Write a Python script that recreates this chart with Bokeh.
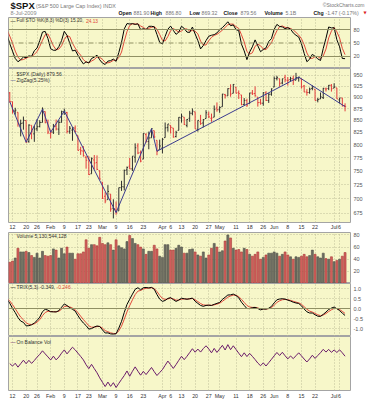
import numpy as np
from bokeh.plotting import figure
from bokeh.layouts import column
from bokeh.models import Range1d, FixedTicker, Label, Span, ColumnDataSource, NumeralTickFormatter
from bokeh.embed import file_html
from bokeh.resources import INLINE

# ---------------- warm-up sessions (15 Dec 2008 .. 8 Jan 2009), only seed the indicators
warm_high = [876.0, 914.0, 908.0, 911.0, 897.0, 887.0, 880.0, 869.0, 873.0, 873.0, 891.0, 910.0,
             934.73, 936.63, 943.85, 927.45, 910.00]
warm_low = [857.0, 868.0, 895.0, 882.0, 883.0, 857.0, 860.0, 861.0, 866.0, 857.0, 870.0, 889.0,
            899.35, 919.53, 927.28, 902.37, 896.81]
warm_close = [868.57, 913.18, 904.42, 885.28, 887.88, 871.63, 863.16, 868.15, 872.80, 869.42, 890.64, 903.25,
              931.80, 927.45, 934.70, 906.65, 909.73]

# ---------------- daily bars shown: 9 Jan 2009 .. 8 Jul 2009
opens = [
    909.91, 890.40, 869.79, 867.28, 841.99, 844.45, 849.64, 806.77, 839.74, 822.16, 832.50, 837.30, 845.73, 868.89, 845.69,
    823.09, 825.69, 837.77, 831.75, 846.09, 868.24, 866.87, 827.41, 829.91, 833.95, 818.61, 791.06, 787.91, 775.87, 773.25, 744.69, 770.64, 765.76, 749.93,
    729.57, 704.44, 698.60, 708.27, 684.04, 680.76, 679.28, 719.59, 720.89, 751.97, 758.84, 753.88, 776.01, 797.92, 784.58, 772.31, 820.60, 806.81, 814.06, 828.68, 809.07, 790.88,
    793.59, 814.53, 835.13, 839.75, 834.12, 816.76, 829.29, 855.33, 856.88, 839.44, 854.54, 865.18, 868.27, 831.25, 847.26, 844.62, 853.91, 862.82, 854.48, 856.85, 876.59,
    872.74, 879.21, 906.10, 903.33, 919.58, 909.03, 922.99, 910.52, 905.40, 884.24, 892.76, 886.07, 909.67, 908.62, 900.42, 888.68, 887.00, 909.95, 892.96, 907.02,
    923.26, 942.87, 942.51, 932.49, 945.67, 938.12, 940.35, 942.73, 939.04, 943.44, 942.45, 925.60, 911.89, 910.86, 919.96, 918.13, 893.46, 896.31, 899.45, 918.84, 919.86, 927.15,
    920.82, 921.24, 894.27, 898.60, 881.90]
highs = [
    911.93, 890.40, 877.02, 867.28, 851.59, 858.13, 849.64, 841.72, 839.74, 838.61, 852.53, 850.45, 877.86, 868.89, 851.66,
    830.78, 842.60, 851.85, 850.55, 870.75, 875.01, 868.05, 838.22, 835.48, 839.43, 818.61, 796.17, 797.58, 778.69, 777.85, 775.49, 780.12, 779.42, 751.27,
    729.57, 711.67, 724.12, 708.27, 699.09, 695.27, 719.60, 731.92, 752.63, 758.29, 774.53, 778.12, 803.04, 803.24, 788.91, 823.37, 823.65, 826.78, 832.98, 828.68, 809.07, 810.48,
    813.62, 845.61, 842.50, 839.75, 834.12, 828.42, 856.91, 864.31, 856.88, 852.93, 870.35, 875.63, 868.27, 850.09, 861.78, 852.87, 871.80, 868.83, 864.48, 882.06, 888.70,
    880.48, 907.85, 907.70, 920.28, 929.58, 930.17, 922.99, 915.57, 905.40, 898.36, 896.97, 910.00, 916.39, 924.60, 900.42, 896.65, 911.76, 913.84, 909.45, 920.02,
    947.77, 949.38, 942.51, 942.47, 951.69, 946.33, 946.92, 949.77, 956.23, 946.30, 942.45, 928.00, 918.44, 921.93, 927.09, 918.13, 898.69, 910.85, 921.42, 922.00, 927.99, 930.01,
    931.92, 921.24, 898.72, 898.60, 886.80]
lows = [
    888.31, 864.32, 862.02, 836.93, 817.04, 830.66, 804.47, 804.30, 811.29, 806.07, 827.69, 835.40, 845.73, 844.15, 821.67,
    812.87, 821.98, 829.18, 819.91, 845.42, 861.65, 822.99, 822.30, 808.06, 825.21, 789.17, 780.43, 777.03, 754.25, 742.37, 744.69, 752.89, 751.75, 734.52,
    699.70, 692.30, 698.60, 677.93, 666.79, 672.88, 679.28, 713.85, 714.76, 742.46, 753.37, 749.93, 765.64, 781.82, 766.20, 772.31, 805.48, 791.37, 814.06, 813.43, 779.81, 790.88,
    783.32, 814.53, 826.70, 822.79, 814.53, 814.84, 829.29, 845.35, 840.25, 835.58, 847.04, 860.87, 832.39, 826.83, 840.57, 835.45, 853.91, 854.65, 847.12, 856.85, 868.51,
    866.10, 879.21, 897.34, 903.33, 901.36, 909.03, 908.68, 896.46, 882.52, 882.52, 878.94, 886.07, 905.22, 901.37, 879.61, 883.75, 881.46, 891.87, 887.60, 903.56,
    923.26, 938.46, 923.85, 929.32, 934.13, 926.44, 936.15, 927.97, 939.04, 935.66, 919.65, 911.60, 903.78, 907.94, 915.80, 893.04, 888.86, 896.31, 896.27, 913.03, 916.18, 912.86,
    920.82, 896.42, 886.36, 879.93, 869.32]
closes = [
    890.35, 870.26, 871.79, 842.62, 843.74, 850.12, 805.22, 840.24, 827.50, 831.95, 836.57, 845.71, 874.09, 845.14, 825.88,
    825.44, 838.51, 832.23, 845.85, 868.60, 869.89, 827.16, 833.74, 835.19, 826.84, 789.17, 788.42, 778.94, 770.05, 743.33, 773.14, 764.90, 752.83, 735.09,
    700.82, 696.33, 712.87, 682.55, 683.38, 676.53, 719.60, 721.36, 750.74, 756.55, 753.89, 778.12, 794.35, 784.04, 768.54, 822.92, 806.12, 813.88, 832.86, 815.94, 787.53, 797.87,
    811.08, 834.38, 842.50, 835.48, 815.55, 825.16, 856.56, 858.73, 841.50, 852.06, 865.30, 869.60, 832.39, 850.08, 843.55, 851.92, 866.23, 857.51, 855.16, 873.64, 872.81,
    877.52, 907.24, 903.80, 919.53, 907.39, 929.23, 909.24, 908.35, 883.92, 893.07, 882.88, 909.71, 908.13, 903.47, 888.33, 887.00, 910.33, 893.06, 906.83, 919.14,
    942.87, 944.74, 931.76, 942.46, 940.09, 939.14, 942.43, 939.15, 944.89, 946.21, 923.72, 911.97, 910.71, 918.37, 921.23, 893.04, 895.10, 900.94, 920.26, 918.90, 927.23, 919.32,
    923.33, 896.42, 898.72, 881.03, 879.56]
# volume, hundreds of millions of shares
volume = [
    35, 37, 42, 58, 52, 52, 53, 51, 46, 43, 50, 42, 53, 46, 45,
    46, 57, 55, 42, 58, 49, 60, 50, 50, 40, 49, 49, 52, 72, 58, 64, 64, 62, 76,
    66, 64, 67, 64, 55, 72, 62, 59, 57, 69, 79, 74, 66, 64, 60, 57, 48, 53, 53, 63, 57, 45,
    43, 64, 64, 55, 55, 58, 63, 60, 50, 50, 56, 57, 52, 47, 45, 52, 42, 47, 58, 66, 60,
    52, 54, 70, 80, 75, 58, 55, 56, 52, 58, 56, 48, 45, 48, 52, 40, 43, 47, 50, 50,
    52, 50, 45, 48, 52, 47, 44, 40, 44, 43, 45, 48, 44, 46, 55, 48, 44, 42, 50, 41, 40, 44,
    36, 38, 40, 45, 51]

# date axis: trading-day index (12 Jan = 0)
tick_pos = [0, 5, 9, 14, 19, 24, 28, 33, 38, 43, 48, 55, 58, 62, 67, 72, 76, 82, 87, 92, 96, 101, 106, 111, 118, 120]
tick_lab = ["12", "20", "26", "Feb", "9", "17", "23", "Mar", "9", "16", "23", "Apr", "6", "13", "20", "27",
            "May", "11", "18", "26", "Jun", "8", "15", "22", "Jul", "6"]
price_ticks = [675, 700, 725, 750, 775, 800, 825, 850, 875, 900, 925, 950]
sto_ticks = [20, 50, 80]
vol_ticks = [20, 40, 60, 80]
trix_ticks = [-1.0, -0.5, 0.0, 0.5, 1.0]

n = len(closes)
assert all(len(a) == n for a in (opens, highs, lows, volume))

# ---------------- indicators
H = np.array(warm_high + highs, float)
L = np.array(warm_low + lows, float)
C = np.array(warm_close + closes, float)
nw = len(warm_close)
x_all = np.arange(len(C)) - nw - 1.0
xv = np.arange(n) - 1.0


def sma(a, k):
    out = np.full(len(a), np.nan)
    for i in range(k - 1, len(a)):
        w = a[i - k + 1:i + 1]
        if not np.isnan(w).any():
            out[i] = w.mean()
    return out


def ema(a, k):
    al = 2.0 / (k + 1)
    out = np.empty(len(a))
    out[0] = a[0]
    for i in range(1, len(a)):
        out[i] = out[i - 1] + al * (a[i] - out[i - 1])
    return out


fastk = np.full(len(C), np.nan)
for i in range(7, len(C)):
    hh, ll = H[i - 7:i + 1].max(), L[i - 7:i + 1].min()
    fastk[i] = 100 * (C[i] - ll) / (hh - ll)
full_k = sma(fastk, 3)
full_d = sma(full_k, 3)

e3 = ema(ema(ema(C, 5), 5), 5)
trix = np.full(len(C), np.nan)
trix[1:] = 100 * (e3[1:] / e3[:-1] - 1)
trix_sig = np.full(len(C), np.nan)
trix_sig[1:] = ema(trix[1:], 3)

cv = np.array(closes)
prev = np.concatenate([[warm_close[-1]], cv[:-1]])
up = cv >= prev
obv = np.cumsum(np.where(cv > prev, 1, np.where(cv < prev, -1, 0)) * np.array(volume, float))


def zigzag(c, th):
    piv, ext, trend = [0], 0, 0
    for i in range(1, len(c)):
        if trend == 0:
            if c[i] >= c[0] * (1 + th):
                trend, ext = 1, i
            elif c[i] <= c[0] * (1 - th):
                trend, ext = -1, i
        elif trend == 1:
            if c[i] > c[ext]:
                ext = i
            elif c[i] <= c[ext] * (1 - th):
                piv.append(ext); trend, ext = -1, i
        else:
            if c[i] < c[ext]:
                ext = i
            elif c[i] >= c[ext] * (1 + th):
                piv.append(ext); trend, ext = 1, i
    piv.append(ext)
    if piv[-1] != len(c) - 1:
        piv.append(len(c) - 1)
    return piv


zz = zigzag(cv, 0.0525)

# ---------------- styling / layout
TOTAL_W = 374
LB, FW, RB = 8, 342, 24
XR0, XR1 = -1.47, 124.0
xr = Range1d(XR0, XR1)
FONT = "Liberation Sans"
BG = "#F7F7C9"
GRIDC = "#BEBE98"
OUT = "#A4A4A4"
RED = "#E0483A"
LEG = "5px"


def style_date_axis(ax, standoff):
    ax.ticker = FixedTicker(ticks=tick_pos)
    ax.major_label_overrides = {p: t for p, t in zip(tick_pos, tick_lab)}
    ax.axis_line_color = None
    ax.major_tick_line_color = None
    ax.minor_tick_line_color = None
    ax.major_tick_out = 0
    ax.major_tick_in = 0
    ax.minor_tick_out = 0
    ax.minor_tick_in = 0
    ax.major_label_standoff = standoff
    ax.major_label_text_font = FONT
    ax.major_label_text_font_size = "5.3px"
    ax.major_label_text_color = "#333333"


def panel(h, lo, hi, ticks=None, fmt=None, log=False, date_axis=0):
    p = figure(frame_width=FW, frame_height=h, x_range=xr, y_range=Range1d(lo, hi),
               y_axis_type="log" if log else "linear",
               x_axis_location="below" if date_axis else None,
               y_axis_location="right" if ticks else None,
               toolbar_location=None, output_backend="svg", title=None,
               min_border_left=LB, min_border_right=RB, min_border_top=0, min_border_bottom=date_axis,
               background_fill_color=BG, border_fill_color="white")
    p.outline_line_color = OUT
    if date_axis:
        style_date_axis(p.xaxis[0], 1 if date_axis < 10 else 2)
    else:
        p.xgrid.ticker = FixedTicker(ticks=tick_pos)
    p.grid.grid_line_color = GRIDC
    p.grid.grid_line_dash = "1 2"
    if ticks:
        ax = p.yaxis[0]
        ax.ticker = FixedTicker(ticks=ticks)
        ax.formatter = fmt
        ax.axis_line_color = None
        ax.major_tick_line_color = None
        ax.minor_tick_line_color = None
        ax.major_tick_out = 0
        ax.major_tick_in = 0
        ax.minor_tick_out = 0
        ax.minor_tick_in = 0
        ax.major_label_standoff = 3
        ax.major_label_text_font = FONT
        ax.major_label_text_font_size = "5.5px"
        ax.major_label_text_color = "#555555"
    else:
        p.ygrid.visible = False
    p._geo = (h, lo, hi, log)
    return p


def put(p, x_px, y_px, text, color="#333333", size=LEG, bold=False):
    h, lo, hi, log = p._geo
    x = XR0 + x_px * (XR1 - XR0) / FW
    if log:
        y = float(np.exp(np.log(hi) - y_px / h * (np.log(hi) - np.log(lo))))
    else:
        y = hi - y_px / h * (hi - lo)
    p.add_layout(Label(x=x, y=y, text=text, text_color=color, text_font=FONT, text_font_size=size,
                       text_font_style="bold" if bold else "normal", text_baseline="middle", text_align="left"))


# header
hdr = figure(frame_width=TOTAL_W, frame_height=17, x_range=Range1d(0, TOTAL_W), y_range=Range1d(0, 17),
             x_axis_location=None, y_axis_location=None, toolbar_location=None, output_backend="svg",
             title=None, min_border=0, background_fill_color="white", border_fill_color="white",
             outline_line_color=None)
hdr.grid.visible = False


def hput(x, y, text, color="#333333", size="5px", bold=False, align="left", font=FONT):
    hdr.add_layout(Label(x=x, y=y, text=text, text_color=color, text_font=font, text_font_size=size,
                         text_font_style="bold" if bold else "normal", text_baseline="middle", text_align=align))


hput(2, 11.8, "$SPX", color="#111111", size="9.5px", bold=True)
hput(27.5, 11.8, "(S&P 500 Large Cap Index) INDX", color="#777777", size="5.35px")
hput(356, 12.3, "\u00a9StockCharts.com", color="#777777", size="5px", align="right")
hput(2, 4.8, "8-Jul-2009", color="#888888", size="5.5px")
for xx, txt, b in [(110, "Open", True), (125, "881.90", False), (142, "High", True), (157, "886.80", False),
                   (181, "Low", True), (193, "869.32", False), (215, "Close", True), (232, "879.56", False),
                   (256, "Volume", True), (277, "5.1B", False), (305, "Chg", True), (317, "-1.47 (-0.17%)", False)]:
    hput(xx, 4.8, txt, color="#111111" if b else "#777777", size="5.2px", bold=b)
hput(355, 4.8, "\u25bc", color="#DD2222", size="4px", font="DejaVu Sans")

# STO panel
sto = panel(51, -6.7, 106.7, sto_ticks, NumeralTickFormatter(format="0"))
sto.ygrid.visible = False
for lvl in (20, 80):
    sto.add_layout(Span(location=lvl, dimension="width", line_color="#8F8F63", line_width=1))
sto.add_layout(Span(location=50, dimension="width", line_color="#8F8F63", line_width=1, line_dash="5 2 1 2"))
sto.line(x_all, full_d, line_color=RED, line_width=1)
sto.line(x_all, full_k, line_color="#000000", line_width=1)
put(sto, 2, 3, "\u2014", color="#000000")
put(sto, 8, 3, "Full STO %K(8,3) %D(3) 15.20,", size="4.8px")
put(sto, 77.5, 3, "24.13", color=RED, size="4.8px")

# price panel (with the date axis below it)
pr = panel(154, 660.1, 966.6, price_ticks, NumeralTickFormatter(format="0"), log=True, date_axis=9)
cols = np.where(up, "#2E2E2E", "#E23B3B")
src = ColumnDataSource(dict(x=xv, xo=xv - 0.4, xc=xv + 0.4, o=opens, h=highs, l=lows, c=closes,
                            col=cols, vol=volume,
                            vfill=np.where(up, "#6E6E62", "#D2605E"),
                            vline=np.where(up, "#505048", "#A83A38")))
pr.segment(x0="x", y0="l", x1="x", y1="h", line_color="col", line_width=1, source=src)
pr.segment(x0="xo", y0="o", x1="x", y1="o", line_color="col", line_width=1, source=src)
pr.segment(x0="x", y0="c", x1="xc", y1="c", line_color="col", line_width=1, source=src)
pr.line([xv[i] for i in zz], [cv[i] for i in zz], line_color="#3B3B8F", line_width=1)
put(pr, 8, 5, "$SPX (Daily) 879.56")
put(pr, 2, 11, "\u2014", color="#3B3B8F")
put(pr, 8, 11, "ZigZag(5.25%)")

# volume
vp = panel(51, 0, 84, vol_ticks, NumeralTickFormatter(format="0"))
vp.vbar(x="x", top="vol", bottom=0, width=0.74, fill_color="vfill", line_color="vline", line_width=0.6, source=src)
put(vp, 8, 3, "Volume 5,130,544,128")

# TRIX
tp = panel(53, -1.4, 1.25, trix_ticks, NumeralTickFormatter(format="0.0"))
tp.add_layout(Span(location=0, dimension="width", line_color="#8F8F63", line_width=1))
tp.line(x_all, trix_sig, line_color=RED, line_width=1)
tp.line(x_all, trix, line_color="#000000", line_width=1)
put(tp, 2, 3, "\u2014", color="#000000")
put(tp, 8, 3, "TRIX(5,3) -0.349,")
put(tp, 48, 3, "-0.246", color=RED)

# OBV (with the date axis below it)
span = obv.max() - obv.min()
op = panel(54, obv.min() - 0.07 * span, obv.max() + 0.19 * span, date_axis=11)
op.line(xv, obv, line_color="#6A1B6A", line_width=1)
put(op, 2, 5, "\u2014", color="#6A1B6A")
put(op, 8, 5, "On Balance Vol")

layout = column(hdr, sto, pr, vp, tp, op, spacing=0)
open("out.html", "w").write(file_html(layout, INLINE))
